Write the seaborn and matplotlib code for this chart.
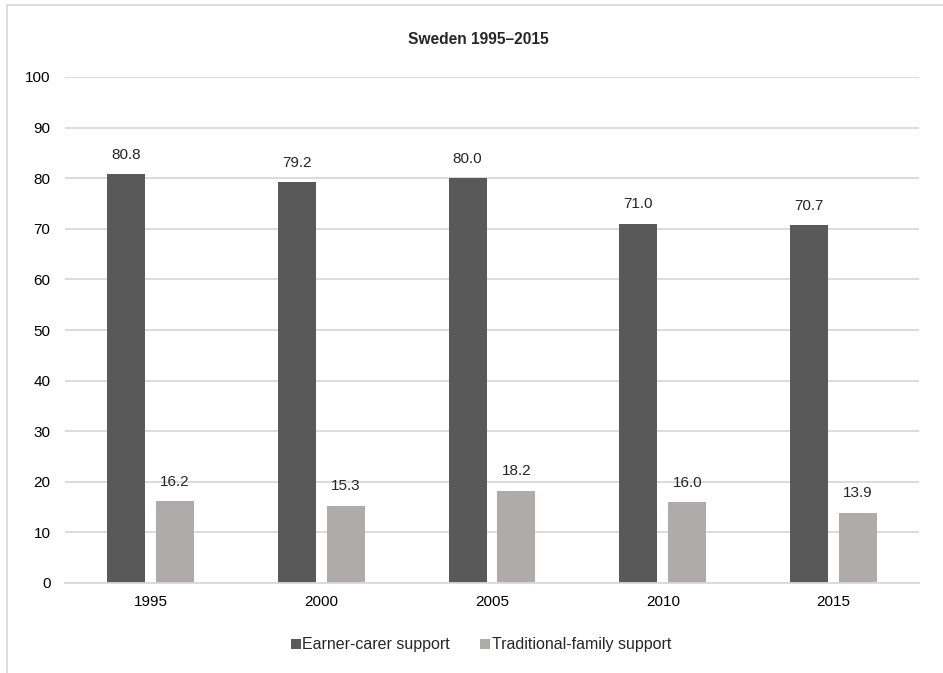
import matplotlib
matplotlib.use("Agg")
import matplotlib.pyplot as plt
from matplotlib.lines import Line2D
from matplotlib.patches import Patch
import seaborn as sns
import pandas as pd

years = ["1995", "2000", "2005", "2010", "2015"]
earner_carer = [80.8, 79.2, 80.0, 71.0, 70.7]
traditional_family = [16.2, 15.3, 18.2, 16.0, 13.9]
series_names = ["Earner-carer support", "Traditional-family support"]
colors = ["#595959", "#afabab"]
title = "Sweden 1995\u20132015"

df = pd.DataFrame({
    "year": years * 2,
    "value": earner_carer + traditional_family,
    "series": [series_names[0]] * len(years) + [series_names[1]] * len(years),
})

sns.set_style("white")
plt.rcParams["font.family"] = ["Liberation Sans", "DejaVu Sans"]

W, H = 943, 673
fig = plt.figure(figsize=(W / 100, H / 100), dpi=100)
ax = fig.add_axes([65 / W, 1 - 583 / H, (919 - 65) / W, (583 - 77) / H])

sns.barplot(data=df, x="year", y="value", hue="series", order=years,
            hue_order=series_names, palette=colors, width=0.572, gap=0.224,
            saturation=1, legend=False, ax=ax, edgecolor="none")

ax.set_ylim(0, 100)
ax.set_yticks(range(0, 101, 10))
ax.set_xlim(-0.5, len(years) - 0.5)
ax.yaxis.grid(True, color="#d9d9d9", linewidth=1.3)
ax.set_axisbelow(True)
for side in ["top", "right", "left"]:
    ax.spines[side].set_visible(False)
ax.spines["bottom"].set_color("#d9d9d9")
ax.spines["bottom"].set_linewidth(1.3)
ax.tick_params(axis="both", length=0, labelsize=11, colors="#000000")
ax.tick_params(axis="y", pad=10.5)
ax.tick_params(axis="x", pad=9)
ax.set_xlabel("")
ax.set_ylabel("")

for container in ax.containers:
    ax.bar_label(container, fmt="%.1f", padding=9, fontsize=11)

fig.text(478 / W, 1 - 40 / H, title, ha="center", va="center",
         fontsize=11.2, fontweight="bold")

handles = [Patch(facecolor=c, edgecolor="none") for c in colors]
fig.legend(handles, series_names, loc="center", bbox_to_anchor=(481 / W, 1 - 645 / H),
           ncol=2, frameon=False, fontsize=11.5, handlelength=0.62, handleheight=0.62,
           handletextpad=0.1, columnspacing=1.9, borderpad=0, borderaxespad=0)

# chart frame (left and top edges)
fig.add_artist(Line2D([7 / W, 7 / W, 1.0], [0.0, 1 - 5 / H, 1 - 5 / H],
                      transform=fig.transFigure, color="#d9d9d9", linewidth=1.3))

fig.savefig("out.png", dpi=100)
